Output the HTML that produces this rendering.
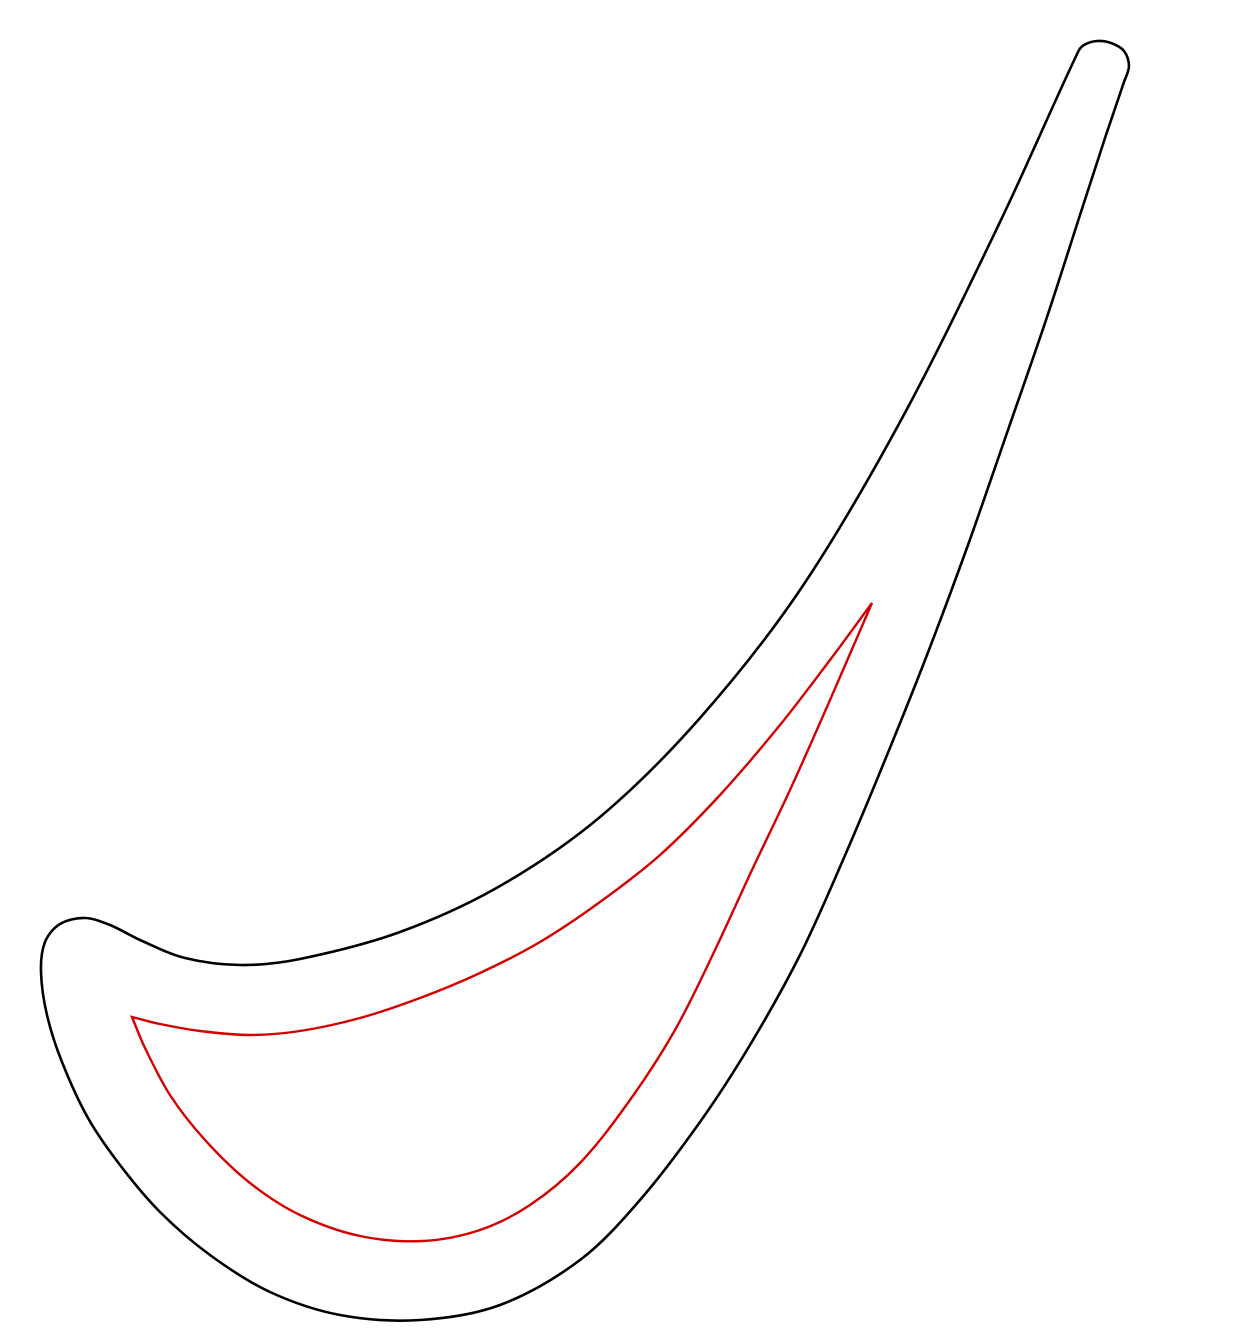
<!DOCTYPE html>
<html>
<head>
<meta charset="utf-8">
<style>
  html,body{margin:0;padding:0;background:#fff;}
  svg{display:block;}
</style>
</head>
<body>
<svg id="chart" width="1250" height="1338" viewBox="0 0 1250 1338" xmlns="http://www.w3.org/2000/svg">
  <g id="plot"></g>
</svg>
<script>
// Outer blade profile (closed)
const outerX = [1078,1000,900,800,700,600,500,400,300,240,185,140,110,85,60,45,41,47,62,88,120,160,210,270,340,420,500,580,640,700,750,800,843,885,927,968,1008,1046,1080,1106,1124,1129,1124,1111,1097,1084];
const outerY = [52,222,422,590,718,817,886,932,959,965,958,940,925,918,924,942,972,1015,1062,1118,1165,1212,1255,1292,1315,1320,1305,1260,1200,1122,1045,955,860,760,655,545,430,320,215,135,82,66,51,43,41,45];
// Inner cavity profile (closed)
const innerX = [872,830,780,720,660,600,540,480,420,360,300,250,200,160,132,145,170,205,250,300,360,423,480,530,580,630,675,715,752,790,830];
const innerY = [603,660,725,795,855,902,942,973,998,1018,1031,1035,1031,1024,1017,1048,1095,1140,1183,1215,1236,1241,1230,1205,1163,1100,1030,950,870,790,700];

function seg(p0,p1,p2,p3){
  const d=(a,b)=>Math.hypot(a[0]-b[0],a[1]-b[1])||1;
  const d01=d(p0,p1),d12=d(p1,p2),d23=d(p2,p3);
  const k1=d12/(d01+d12)/3, k2=d12/(d12+d23)/3;
  const c1=[p1[0]+(p2[0]-p0[0])*k1, p1[1]+(p2[1]-p0[1])*k1];
  const c2=[p2[0]-(p3[0]-p1[0])*k2, p2[1]-(p3[1]-p1[1])*k2];
  return ` C${c1[0].toFixed(1)},${c1[1].toFixed(1)} ${c2[0].toFixed(1)},${c2[1].toFixed(1)} ${p2[0]},${p2[1]}`;
}
function closedPath(xs, ys){
  const n = xs.length;
  const P = i => [xs[(i+n)%n], ys[(i+n)%n]];
  let d = `M${xs[0]},${ys[0]}`;
  for(let i=0;i<n;i++) d += seg(P(i-1),P(i),P(i+1),P(i+2));
  return d + 'Z';
}
function piecewise(xs, ys, corners){
  let d='';
  for(let s=0;s<corners.length;s++){
    const a=corners[s], b=corners[(s+1)%corners.length];
    const idx=[]; let i=a;
    while(true){ idx.push(i); if(i===b) break; i=(i+1)%xs.length; }
    const pts=idx.map(k=>[xs[k],ys[k]]);
    if(s===0) d+=`M${pts[0][0]},${pts[0][1]}`;
    for(let j=0;j<pts.length-1;j++){
      const p0=j>0?pts[j-1]:[2*pts[0][0]-pts[1][0],2*pts[0][1]-pts[1][1]];
      const p3=j+2<pts.length?pts[j+2]:[2*pts[j+1][0]-pts[j][0],2*pts[j+1][1]-pts[j][1]];
      d+=seg(p0,pts[j],pts[j+1],p3);
    }
  }
  return d+'Z';
}
const g=document.getElementById('plot');
const NS='http://www.w3.org/2000/svg';
const outer=document.createElementNS(NS,'path');


outer.setAttribute('d', closedPath(outerX, outerY));
outer.setAttribute('fill','none');
outer.setAttribute('stroke','#000');
outer.setAttribute('stroke-width','2.6');
g.appendChild(outer);
const inner=document.createElementNS(NS,'path');


inner.setAttribute('d', piecewise(innerX, innerY, [0,14]));
inner.setAttribute('fill','none');
inner.setAttribute('stroke','#d40000');
inner.setAttribute('stroke-width','2.4');
inner.setAttribute('stroke-linejoin','miter');
g.appendChild(inner);
</script>
</body>
</html>
